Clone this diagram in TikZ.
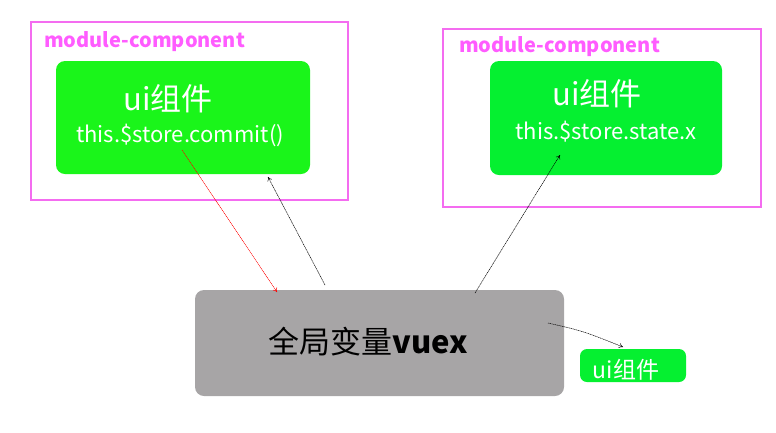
\documentclass[tikz,border=0pt]{standalone}
\usepackage{fontspec}
\setmainfont{Noto Sans CJK SC}
\usetikzlibrary{arrows.meta}
\definecolor{pinkline}{HTML}{F46CF0}
\definecolor{pinktext}{HTML}{FF5CFF}
\definecolor{greenA}{HTML}{1AF51A}
\definecolor{greenB}{HTML}{05F030}
\definecolor{grayv}{HTML}{A7A5A6}
\tikzset{
  frame/.style={draw=pinkline, line width=1.1pt},
  uibox/.style={rectangle, rounded corners=9pt, inner sep=0pt},
  modlabel/.style={text=pinktext, font=\fontsize{20}{20}\selectfont\bfseries, anchor=base west, inner sep=0pt},
  bigtxt/.style={text=white, font=\fontsize{31}{31}\selectfont, anchor=base, inner sep=0pt},
  codetxt/.style={text=white, font=\fontsize{22}{22}\selectfont, anchor=base, inner sep=0pt},
  conn/.style={line width=0.5pt, dash pattern=on 1.2pt off 0.6pt, -{To[length=4pt,width=5pt]}},
}
\begin{document}
\begin{tikzpicture}[x=1pt,y=-1pt]
\useasboundingbox (0,0) rectangle (776,432);
% frames
\draw[frame] (31,22) rectangle (348,200);
\draw[frame] (443,29) rectangle (761,207);
\node[modlabel] (m1) at (44,47) {module-component};
\node[modlabel] (m2) at (459,52) {module-component};
% boxes
\node[uibox, fill=greenA, minimum width=254pt, minimum height=113pt] (lui) at (183,117.5) {};
\node[uibox, fill=greenB, minimum width=232pt, minimum height=114pt] (rui) at (606,118) {};
\node[uibox, fill=grayv, minimum width=369pt, minimum height=106pt] (vuex) at (379.5,343) {};
\node[uibox, rounded corners=7pt, fill=greenB, minimum width=106pt, minimum height=33pt] (sui) at (633,365.5) {};
% texts
\node[bigtxt] (lt1) at (168,110) {ui组件};
\node[codetxt] (lt2) at (180,142) {this.\$store.commit()};
\node[bigtxt] (rt1) at (597,105) {ui组件};
\node[codetxt] (rt2) at (606,139) {this.\$store.state.x};
\node[text=black, font=\fontsize{31}{31}\selectfont, anchor=base, inner sep=0pt] (vt) at (368,353) {全局变量\textbf{vuex}};
\node[text=white, font=\fontsize{23}{23}\selectfont, anchor=base, inner sep=0pt] (st) at (626,378) {ui组件};
% connector ends
\coordinate (a1) at (182,150);
\coordinate (a2) at (277,292);
\coordinate (b1) at (325,285);
\coordinate (b2) at (268,177);
\coordinate (c1) at (475,293);
\coordinate (c2) at (560,155);
\coordinate (d1) at (548,323);
\coordinate (d2) at (623,347);
\draw[conn, red] (a1) -- (a2);
\draw[conn] (b1) -- (b2);
\draw[conn] (c1) -- (c2);
\draw[conn] (d1) .. controls (583,331) .. (d2);
\end{tikzpicture}
\end{document}
